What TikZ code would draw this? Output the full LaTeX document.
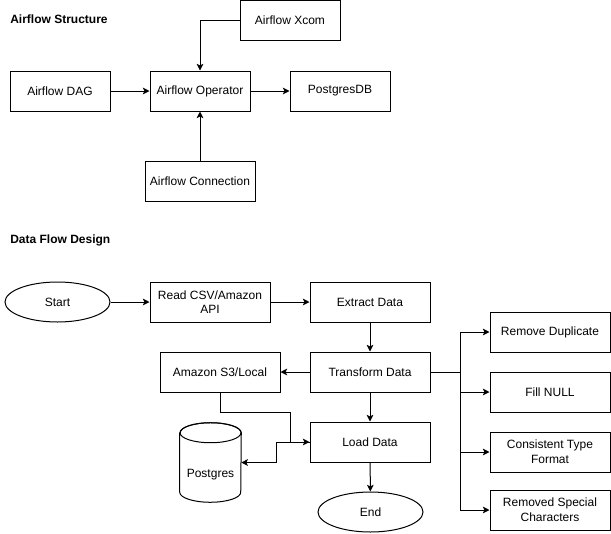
\documentclass[tikz,border=0pt]{standalone}
\usepackage{fontspec}
\setmainfont{Liberation Sans}
\usetikzlibrary{arrows.meta,shapes.geometric}

\begin{document}
\begin{tikzpicture}[
	x=0.75pt, y=0.75pt,
	every node/.style={font=\fontsize{9pt}{11pt}\selectfont},
	cell/.style={
		rectangle,
		draw,
		line width=0.75pt,
		align=center,
		minimum width=90pt,
		minimum height=30pt,
		inner sep=2pt
	},
	oval/.style={
		ellipse,
		draw,
		line width=0.75pt,
		minimum width=78.75pt,
		minimum height=30pt
	},
	heading/.style={
		anchor=west,
		inner sep=0pt,
		font=\fontsize{9pt}{11pt}\selectfont\bfseries
	},
	ArrowC1/.style={% Arrows with block tips
		line width=0.75pt,
		-{Stealth[length=5pt,width=5pt,inset=1.2pt]}
	},
]
	\fill [white] (0,0) rectangle (611,-533);
	\useasboundingbox (0,0) rectangle (611,-533);

	% Airflow Structure
	\node [heading] (t1) at (10,-19) {Airflow Structure};

	\node [cell, minimum width=75pt] (xcom) at (290,-20.5) {Airflow Xcom};
	\node [cell, minimum width=75pt] (dag) at (60,-91) {Airflow DAG};
	\node [cell, minimum width=75pt] (op) at (200,-91) {Airflow Operator};
	\node [cell, minimum width=75pt] (pgdb) at (340,-91) {PostgresDB};
	\node [cell, minimum width=82.5pt] (conn) at (200,-181) {Airflow Connection};

	\draw [ArrowC1] (dag) -- (op);
	\draw [ArrowC1] (op) -- (pgdb);
	\draw [ArrowC1] (xcom.west) -| (op.north);
	\draw [ArrowC1] (conn) -- (op);

	% Data Flow Design
	\node [heading] (t2) at (10,-240) {Data Flow Design};

	\node [oval] (start) at (57.5,-302) {Start};
	\node [cell] (read) at (210,-302) {Read CSV/Amazon\\API};
	\node [cell] (extract) at (370,-302) {Extract Data};
	\node [cell] (transform) at (370,-372) {Transform Data};
	\node [cell] (s3) at (220,-372) {Amazon S3/Local};
	\node [cell] (load) at (370,-442) {Load Data};
	\node [oval] (stop) at (370.5,-512) {End};

	\node [cell] (dup) at (550,-332) {Remove Duplicate};
	\node [cell] (null) at (550,-392) {Fill NULL};
	\node [cell] (fmt) at (550,-452) {Consistent Type\\Format};
	\node [cell] (spec) at (550,-510) {Removed Special\\Characters};

	% Postgres cylinder
	\node [minimum width=45.75pt, minimum height=59.25pt, inner sep=0pt] (pg) at (210.5,-462.5) {};
	\draw [line width=0.75pt]
		([yshift=-7.5pt]pg.north west) -- ([yshift=7.5pt]pg.south west)
		arc [start angle=180, end angle=360, x radius=22.875pt, y radius=7.5pt]
		-- ([yshift=-7.5pt]pg.north east)
		arc [start angle=0, end angle=180, x radius=22.875pt, y radius=7.5pt];
	\draw [line width=0.75pt] ([yshift=-7.5pt]pg.north) ellipse [x radius=22.875pt, y radius=7.5pt];
	\node (pgtext) at ([yshift=-9.4pt]pg.center) {Postgres};

	\draw [ArrowC1] (start) -- (read);
	\draw [ArrowC1] (read) -- (extract);
	\draw [ArrowC1] (extract) -- (transform);
	\draw [ArrowC1] (transform) -- (s3);
	\draw [ArrowC1] (transform) -- (load);
	\draw [ArrowC1] (load) -- (stop);

	\coordinate (br) at ([xshift=22.5pt]transform.east);
	\draw [line width=0.75pt] (transform.east) -- (br);
	\draw [ArrowC1] (br) |- (dup);
	\draw [ArrowC1] (br) |- (null);
	\draw [ArrowC1] (br) |- (fmt);
	\draw [ArrowC1] (br) |- (spec);

	\coordinate (s3bend) at (290,-412);
	\coordinate (pgbend) at (276,-442);
	\draw [ArrowC1] (s3.south) |- (s3bend) |- (load.west);
	\draw [ArrowC1] (load.west) -- (pgbend) |- (pg.east);
\end{tikzpicture}
\end{document}
